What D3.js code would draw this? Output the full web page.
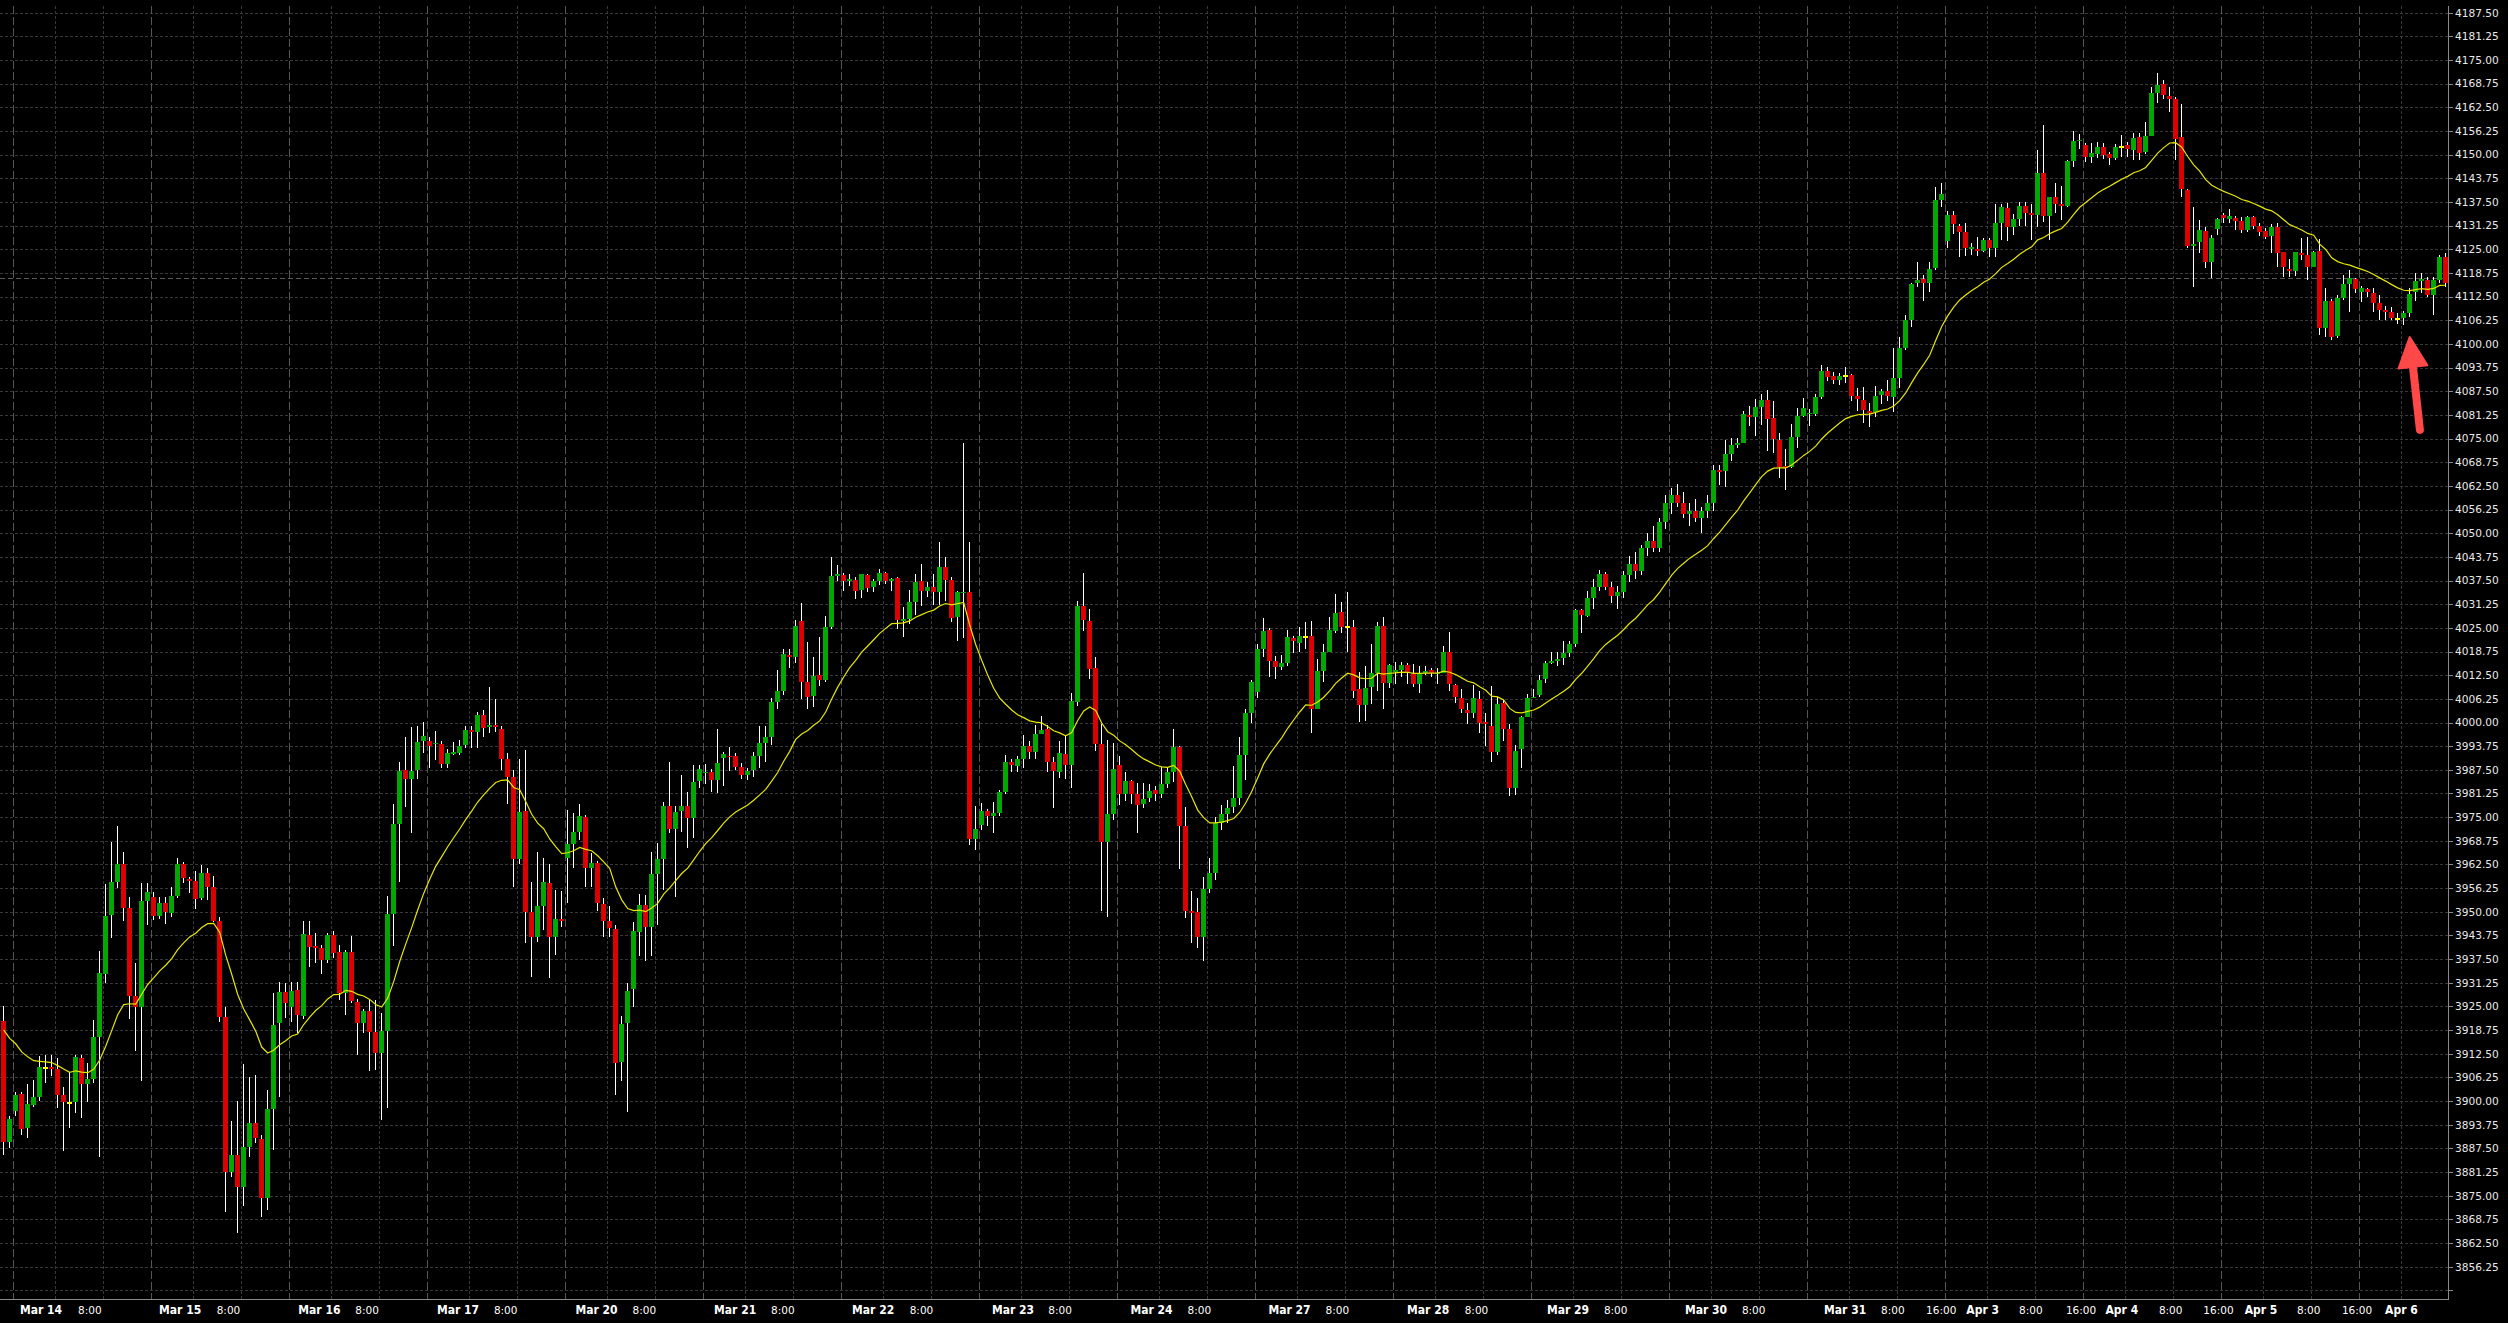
<!DOCTYPE html>
<html><head><meta charset="utf-8">
<script src="https://cdn.jsdelivr.net/npm/d3@7"></script>
<style>html,body{margin:0;padding:0;background:#000;overflow:hidden}</style>
</head><body>
<svg id="chart" width="2508" height="1323"></svg>
<script>
// ---------- DATA (hourly bars) ----------
const openP = [
3921.2,3889.3,3897.5,3901.9,3893.0,3899.0,3901.2,3908.8,3909.1,3908.6,
3901.6,3899.6,3899.8,3911.5,3904.5,3905.9,3917.0,3933.7,3949.2,3957.9,
3962.6,3951.1,3927.8,3924.9,3952.9,3953.9,3949.0,3952.2,3949.7,3954.2,
3962.6,3958.7,3958.2,3953.6,3960.3,3956.6,3947.7,3922.1,3881.2,3885.7,
3877.4,3887.9,3894.3,3890.0,3874.3,3897.9,3920.5,3928.8,3924.9,3929.3,
3922.5,3944.0,3941.0,3940.5,3937.3,3944.0,3939.5,3928.6,3939.5,3926.3,
3920.5,3923.7,3918.3,3912.6,3918.6,3949.4,3973.1,3987.5,3985.1,3987.5,
3995.1,3995.1,3994.2,3994.3,3989.1,3991.8,3991.9,3994.1,3998.0,3997.6,
4002.0,3998.7,3999.3,3998.3,3990.3,3985.5,3963.9,3976.6,3950.0,3943.4,
3951.4,3957.6,3943.4,3948.0,3964.1,3967.9,3971.0,3975.0,3961.6,3962.9,
3952.0,3947.6,3945.5,3910.4,3920.7,3929.5,3944.7,3951.8,3946.1,3960.0,
3963.9,3978.0,3972.0,3976.7,3978.0,3974.7,3984.5,3986.7,3987.0,3984.8,
3990.7,3991.2,3991.2,3988.3,3986.1,3987.5,3991.2,3994.5,3996.1,4005.5,
4008.2,4017.8,4017.2,4026.8,4010.6,4007.0,4012.6,4011.3,4025.2,4038.7,
4039.0,4037.4,4037.6,4034.9,4039.0,4035.8,4037.5,4039.5,4037.3,4038.2,
4026.9,4027.4,4031.8,4037.5,4034.8,4035.9,4034.4,4041.0,4037.7,4027.8,
4034.2,4034.6,3969.3,3973.0,3976.6,3975.4,3976.1,3981.6,3989.5,3988.6,
3990.3,3993.9,3992.2,3996.9,3998.3,3989.6,3987.0,3991.7,3988.9,4005.4,
4030.9,4026.8,4014.4,3994.2,3968.4,3975.8,3988.7,3981.0,3984.6,3981.0,
3978.5,3980.1,3982.1,3981.0,3983.7,3986.8,3993.6,3972.6,3950.2,3949.9,
3943.3,3956.1,3960.3,3973.4,3975.8,3977.8,3980.1,3991.4,4002.6,4008.1,
4019.3,4024.4,4016.3,4014.7,4015.6,4022.4,4021.1,4022.7,4022.9,4003.6,
4013.6,4018.5,4024.3,4029.3,4025.1,4025.3,4008.9,4004.5,4009.5,4013.0,
4025.6,4010.5,4013.3,4013.9,4015.2,4013.0,4010.2,4013.0,4013.9,4013.0,
4013.2,4018.7,4009.9,4006.6,4003.3,4002.4,4006.2,4000.2,3999.1,3992.3,
4005.1,3998.3,3982.6,3992.9,4001.5,4006.4,4007.3,4011.5,4015.8,4016.3,
4017.0,4018.3,4020.7,4029.7,4028.2,4033.0,4035.7,4039.2,4035.9,4033.4,
4034.5,4039.0,4042.0,4040.0,4046.0,4048.0,4046.0,4053.0,4058.0,4060.0,
4058.0,4055.0,4056.0,4054.0,4056.0,4058.0,4066.7,4066.5,4070.9,4073.3,
4073.8,4081.2,4080.8,4083.4,4085.2,4080.4,4074.6,4067.8,4067.6,4075.5,
4081.0,4081.4,4081.4,4085.9,4092.9,4091.5,4090.5,4091.5,4091.8,4086.3,
4085.2,4082.3,4081.9,4086.5,4087.5,4086.1,4090.9,4098.8,4106.2,4116.0,
4117.1,4116.2,4120.0,4138.0,4127.3,4134.1,4131.2,4129.5,4125.0,4125.1,
4124.6,4127.5,4125.3,4132.0,4135.8,4131.0,4133.0,4136.5,4134.5,4134.1,
4145.2,4133.9,4138.9,4137.0,4136.5,4148.2,4153.6,4152.6,4149.5,4150.2,
4151.9,4150.2,4149.2,4152.1,4152.5,4151.2,4154.7,4150.7,4154.9,4166.4,
4168.7,4165.5,4164.6,4154.6,4140.7,4126.0,4126.8,4129.8,4121.7,4130.3,
4134.1,4133.0,4133.4,4132.5,4130.1,4133.6,4131.2,4129.8,4128.5,4130.8,
4124.2,4119.8,4119.4,4124.1,4123.5,4120.4,4124.5,4104.1,4111.4,4102.1,
4112.2,4115.8,4117.1,4113.8,4114.4,4113.4,4110.9,4109.0,4108.4,4106.7,
4106.9,4108.3,4113.6,4116.7,4116.9,4112.9,4116.9,4122.9];
const highP = [
3925.1,3896.0,3902.3,3902.3,3904.5,3905.6,3911.9,3912.2,3912.2,3911.5,
3903.8,3907.6,3912.2,3912.2,3910.0,3921.4,3939.6,3957.3,3968.4,3972.7,
3965.7,3954.0,3936.5,3957.5,3957.5,3955.3,3953.8,3953.8,3956.6,3964.1,
3963.2,3959.3,3960.9,3962.4,3961.5,3959.5,3948.7,3924.9,3894.8,3899.9,
3909.8,3906.4,3906.9,3891.0,3902.8,3928.5,3931.5,3931.3,3931.5,3931.5,
3947.7,3947.7,3944.3,3941.2,3944.3,3945.0,3941.2,3939.8,3943.6,3927.0,
3924.2,3926.7,3926.7,3923.2,3954.2,3978.6,3989.7,3996.3,3998.9,3999.1,
4000.2,3996.3,3997.8,3995.0,3993.0,3994.9,3995.4,3999.1,3999.1,4002.9,
4003.3,4009.5,4006.1,3999.1,3991.9,3987.5,3990.4,3992.7,3958.0,3965.9,
3964.1,3962.6,3955.8,3955.6,3976.9,3976.0,3978.4,3975.5,3965.4,3963.5,
3953.6,3951.4,3946.5,3922.5,3931.1,3947.4,3954.7,3954.4,3965.9,3968.1,
3979.1,3989.6,3978.0,3986.1,3981.7,3988.9,3988.8,3989.0,3987.6,3998.2,
3992.3,3993.6,3991.9,3989.2,3987.9,3992.3,3999.1,3999.1,4006.4,4014.0,
4019.3,4019.3,4027.0,4031.6,4021.2,4017.4,4022.5,4028.2,4043.6,4041.7,
4039.4,4039.1,4038.4,4039.2,4039.3,4037.9,4040.5,4039.8,4038.2,4038.4,
4030.4,4035.1,4039.3,4041.9,4037.0,4039.3,4047.6,4043.6,4038.4,4034.8,
4073.8,4047.7,3978.0,3978.8,3977.1,3979.0,3982.3,3991.5,3990.3,3991.2,
3996.6,3995.2,3999.3,4001.6,3999.3,3990.8,3995.2,3996.4,4007.7,4032.1,
4039.5,4029.9,4017.4,3999.7,3995.5,3994.5,3991.2,3987.0,3984.8,3983.9,
3983.9,3983.7,3983.2,3988.2,3988.2,3998.3,3993.9,3977.6,3955.6,3953.7,
3959.2,3964.3,3975.0,3978.2,3979.5,3988.5,3996.3,4003.6,4011.1,4020.7,
4027.5,4024.9,4017.6,4017.8,4024.4,4022.9,4025.1,4026.5,4026.9,4016.8,
4020.7,4027.9,4033.9,4031.9,4034.6,4027.1,4013.4,4014.8,4020.7,4026.6,
4027.8,4015.5,4016.1,4016.1,4015.6,4015.5,4014.8,4014.9,4014.5,4014.3,
4020.2,4023.8,4010.3,4008.8,4005.1,4009.9,4008.4,4002.6,4009.6,4006.8,
4005.9,3999.6,3994.1,4001.7,4007.5,4008.8,4012.6,4016.3,4018.7,4018.5,
4021.4,4021.4,4029.9,4029.9,4034.8,4037.8,4040.3,4039.8,4037.0,4036.0,
4040.0,4044.0,4045.0,4047.0,4050.0,4052.0,4054.0,4060.0,4062.0,4063.0,
4061.0,4058.0,4059.0,4057.0,4060.0,4068.0,4068.0,4074.6,4075.1,4075.1,
4082.3,4083.6,4085.4,4086.8,4087.8,4084.8,4076.4,4072.3,4078.9,4083.0,
4085.6,4082.7,4086.9,4094.4,4093.8,4092.7,4092.4,4094.0,4092.0,4088.3,
4088.5,4084.3,4088.9,4088.0,4090.5,4098.8,4101.9,4107.6,4116.2,4121.7,
4118.2,4121.7,4141.4,4142.4,4135.2,4135.2,4131.7,4132.0,4126.6,4128.2,
4127.9,4127.9,4136.9,4137.0,4137.2,4134.3,4137.6,4137.6,4137.0,4151.1,
4157.8,4138.9,4142.4,4141.7,4148.6,4156.2,4155.5,4153.0,4153.2,4153.4,
4153.0,4150.8,4152.7,4155.2,4153.4,4155.8,4155.8,4158.7,4167.8,4171.7,
4169.6,4168.0,4165.1,4163.4,4140.8,4136.3,4132.7,4131.0,4128.8,4133.2,
4134.5,4135.6,4133.8,4133.6,4133.9,4133.9,4131.9,4130.5,4131.7,4131.9,
4124.4,4122.4,4124.4,4127.9,4128.3,4124.6,4127.6,4114.7,4111.8,4112.9,
4118.2,4119.5,4117.3,4115.3,4114.7,4114.7,4112.9,4110.0,4109.8,4108.1,
4108.8,4114.7,4118.7,4118.7,4117.8,4117.8,4123.5,4123.9];
const lowP = [
3885.8,3887.5,3896.0,3891.0,3890.3,3898.5,3900.0,3904.7,3906.6,3898.1,
3886.9,3893.0,3896.9,3895.6,3899.7,3904.7,3885.1,3931.1,3943.0,3956.4,
3947.7,3921.6,3913.3,3905.4,3946.4,3947.8,3948.1,3946.9,3948.7,3953.6,
3957.5,3954.9,3950.8,3953.1,3953.1,3947.4,3921.0,3870.6,3880.0,3865.1,
3872.4,3885.3,3888.8,3869.5,3871.2,3887.1,3901.2,3921.9,3921.0,3917.9,
3921.8,3935.5,3936.4,3933.7,3936.4,3937.7,3926.7,3922.7,3925.8,3912.2,
3917.9,3908.0,3908.2,3895.0,3898.1,3941.0,3958.0,3977.8,3970.9,3985.1,
3992.0,3988.1,3990.1,3987.9,3987.9,3991.3,3991.5,3993.2,3993.2,3993.2,
3996.3,3997.1,3997.6,3987.5,3978.6,3956.6,3962.5,3941.7,3932.9,3942.1,
3945.2,3932.4,3938.6,3946.1,3952.4,3961.5,3968.9,3956.6,3956.6,3950.3,
3943.4,3943.4,3901.6,3905.4,3897.2,3924.9,3938.3,3937.1,3938.3,3946.5,
3955.8,3970.7,3954.0,3971.2,3966.8,3969.4,3982.6,3983.8,3981.7,3981.5,
3983.3,3987.3,3987.5,3985.0,3984.8,3985.7,3987.9,3989.6,3994.1,4003.6,
4007.3,4014.3,4015.8,4006.3,4003.5,4004.2,4009.6,4010.8,4024.7,4037.3,
4034.8,4036.0,4032.7,4033.0,4034.4,4034.6,4036.2,4036.7,4034.8,4024.7,
4022.6,4026.1,4028.5,4030.9,4033.2,4031.0,4031.0,4032.0,4026.6,4021.6,
4022.2,3967.7,3966.2,3971.6,3972.6,3970.7,3975.2,3981.0,3986.8,3987.0,
3987.9,3990.3,3990.3,3996.9,3986.8,3977.3,3985.3,3985.1,3982.6,4004.4,
4024.2,4011.5,3992.6,3950.2,3948.6,3974.3,3978.2,3979.2,3978.5,3970.9,
3977.3,3979.0,3979.2,3980.1,3982.7,3984.2,3961.2,3948.3,3941.7,3940.5,
3937.0,3955.0,3958.5,3971.5,3973.5,3976.0,3978.2,3984.8,4000.0,4006.4,
4017.4,4011.9,4011.4,4014.0,4014.9,4018.4,4018.7,4019.3,3997.3,4003.6,
4010.8,4018.5,4023.7,4023.6,4018.5,4006.6,4000.2,4000.5,4005.0,4008.4,
4003.5,4009.0,4010.3,4012.1,4010.3,4009.5,4007.9,4012.6,4011.9,4010.3,
4013.0,4008.4,4005.1,4002.4,3999.6,4001.1,3997.1,3993.8,3989.7,3991.4,
3995.2,3980.6,3980.9,3988.1,4001.5,4006.4,4006.8,4010.5,4015.5,4014.8,
4015.2,4017.2,4019.9,4023.6,4027.8,4029.9,4034.8,4035.0,4031.5,4030.0,
4033.0,4037.0,4038.0,4039.0,4044.0,4045.0,4045.0,4051.0,4055.0,4057.0,
4054.0,4052.0,4053.0,4050.0,4054.0,4056.0,4062.7,4062.3,4069.2,4072.4,
4073.8,4078.2,4075.7,4078.6,4071.8,4071.3,4064.5,4061.4,4067.2,4072.4,
4080.6,4078.2,4081.0,4085.4,4090.3,4089.3,4089.2,4089.6,4084.9,4082.4,
4079.2,4078.0,4080.8,4084.1,4084.9,4081.9,4088.3,4098.4,4104.4,4115.0,
4111.4,4113.8,4119.5,4136.1,4125.3,4129.0,4122.9,4123.1,4123.5,4123.1,
4124.4,4122.9,4122.9,4127.5,4127.3,4128.8,4131.2,4131.2,4127.5,4131.0,
4132.3,4127.5,4134.7,4132.7,4136.3,4146.8,4151.4,4148.1,4147.9,4149.0,
4148.8,4147.4,4148.6,4149.5,4149.5,4148.6,4148.6,4150.3,4154.8,4163.7,
4164.6,4161.4,4148.6,4138.7,4125.3,4115.1,4123.9,4120.0,4117.3,4128.8,
4131.9,4131.9,4130.1,4129.4,4129.7,4130.3,4128.5,4127.6,4124.1,4120.4,
4117.8,4117.8,4117.9,4122.3,4116.9,4120.4,4102.4,4101.9,4101.0,4101.5,
4111.6,4108.5,4113.5,4111.2,4112.3,4108.5,4106.3,4106.3,4106.3,4105.4,
4105.0,4107.2,4111.4,4113.4,4112.3,4107.6,4116.0,4115.1];
const closeP = [
3889.3,3895.3,3901.6,3892.6,3899.2,3901.0,3909.1,3908.8,3908.6,3901.6,
3899.8,3899.6,3911.7,3904.5,3905.9,3917.0,3933.9,3949.0,3957.9,3962.6,
3951.1,3927.8,3924.9,3952.9,3955.2,3949.0,3952.2,3950.0,3954.2,3962.6,
3958.8,3958.2,3953.5,3960.3,3956.6,3947.7,3922.1,3881.2,3885.7,3877.4,
3887.9,3894.1,3890.2,3874.3,3897.9,3920.1,3928.8,3925.8,3929.1,3922.7,
3944.2,3940.8,3940.5,3937.3,3944.0,3939.0,3928.6,3939.5,3926.5,3920.5,
3923.7,3918.3,3912.6,3918.6,3949.4,3973.2,3987.2,3985.1,3987.2,3994.9,
3996.4,3993.9,3994.5,3989.1,3991.9,3992.2,3993.8,3998.0,3997.6,4002.0,
3998.6,3999.3,3998.7,3990.3,3985.7,3963.9,3976.4,3950.0,3943.4,3951.4,
3957.9,3943.4,3948.1,3947.6,3967.9,3971.0,3975.3,3961.6,3962.9,3952.2,
3947.6,3945.6,3910.1,3920.4,3929.2,3944.9,3951.8,3946.1,3960.0,3963.9,
3978.0,3972.0,3976.4,3978.0,3974.9,3984.4,3987.7,3987.0,3984.8,3989.4,
3991.7,3991.0,3988.3,3986.1,3987.2,3991.2,3994.5,3996.1,4005.5,4008.2,
4018.1,4017.2,4025.5,4010.6,4006.8,4012.3,4011.3,4025.2,4038.7,4039.2,
4037.4,4037.9,4034.8,4039.2,4035.6,4037.5,4039.5,4037.5,4037.9,4027.1,
4027.4,4031.8,4037.2,4034.8,4035.9,4034.4,4041.0,4037.7,4027.7,4034.4,
4034.6,3969.3,3971.9,3976.6,3975.4,3976.1,3981.6,3989.5,3988.9,3990.3,
3993.9,3992.2,3996.9,3998.1,3989.6,3987.3,3992.0,3988.9,4005.6,4030.9,
4027.1,4014.2,3994.2,3968.4,3975.8,3987.7,3981.0,3984.6,3981.0,3978.3,
3979.9,3982.0,3981.0,3983.7,3986.8,3993.6,3972.6,3950.2,3949.7,3943.3,
3956.1,3960.3,3973.4,3975.8,3977.5,3980.1,3991.4,4002.6,4010.8,4019.3,
4024.2,4016.3,4014.7,4015.6,4022.7,4021.4,4022.9,4022.7,4003.5,4013.6,
4018.7,4024.4,4029.0,4025.1,4025.1,4008.4,4004.5,4009.2,4013.0,4025.6,
4010.5,4015.2,4013.9,4015.2,4013.0,4010.2,4013.0,4013.6,4013.0,4013.2,
4018.7,4010.3,4006.8,4003.6,4002.4,4006.4,3999.9,3999.5,3992.3,4004.9,
3998.2,3982.6,3992.5,4001.5,4006.6,4006.8,4011.2,4015.6,4016.3,4016.7,
4018.3,4020.7,4029.7,4028.4,4033.0,4035.7,4039.2,4035.9,4033.4,4034.5,
4039.0,4042.0,4040.0,4046.0,4048.0,4046.0,4053.0,4058.0,4060.0,4058.0,
4055.0,4056.0,4054.0,4056.0,4058.0,4066.7,4066.2,4070.9,4073.3,4073.8,
4081.5,4080.8,4083.4,4085.2,4080.2,4074.8,4067.6,4067.3,4075.3,4081.0,
4083.0,4081.7,4086.1,4092.9,4091.4,4090.5,4091.5,4091.5,4086.3,4085.4,
4082.6,4081.7,4086.3,4087.5,4086.3,4090.9,4098.8,4106.3,4115.8,4116.9,
4116.0,4119.7,4138.0,4139.6,4134.1,4131.6,4129.7,4125.3,4125.5,4124.6,
4127.5,4125.3,4131.9,4136.1,4130.8,4133.0,4136.5,4134.7,4134.1,4145.2,
4133.9,4138.7,4137.0,4136.5,4148.2,4153.6,4153.9,4149.5,4150.4,4151.9,
4149.9,4149.2,4151.9,4152.1,4151.4,4154.5,4150.5,4154.9,4166.4,4168.4,
4165.8,4164.6,4154.1,4140.8,4125.9,4126.4,4130.1,4121.7,4127.9,4133.0,
4133.2,4133.8,4132.5,4130.1,4133.6,4131.2,4129.7,4128.3,4130.8,4124.1,
4120.2,4119.4,4124.2,4123.5,4120.4,4124.2,4104.1,4111.4,4101.9,4112.2,
4115.8,4117.3,4114.5,4114.7,4113.8,4110.9,4109.0,4108.5,4106.9,4106.7,
4108.1,4113.2,4116.6,4117.2,4112.8,4116.9,4122.9,4116.0];

// moving average (EMA on close) – period and value at the first visible bar
const maPeriod = 20;
const maFirstValue = 3918.8;

// price axis tick values
const priceTicks = [3850.00,3856.25,3862.50,3868.75,3875.00,3881.25,3887.50,3893.75,3900.00,3906.25,
3912.50,3918.75,3925.00,3931.25,3937.50,3943.75,3950.00,3956.25,3962.50,3968.75,3975.00,3981.25,
3987.50,3993.75,4000.00,4006.25,4012.50,4018.75,4025.00,4031.25,4037.50,4043.75,4050.00,4056.25,
4062.50,4068.75,4075.00,4081.25,4087.50,4093.75,4100.00,4106.25,4112.50,4118.75,4125.00,4131.25,
4137.50,4143.75,4150.00,4156.25,4162.50,4168.75,4175.00,4181.25,4187.50];
const priceDomain = [3856.25, 4187.50];

// time axis labels (bar position of each label)
const timeLabelText = ["Mar 14","8:00","Mar 15","8:00","Mar 16","8:00","Mar 17","8:00","Mar 20","8:00",
"Mar 21","8:00","Mar 22","8:00","Mar 23","8:00","Mar 24","8:00","Mar 27","8:00","Mar 28","8:00",
"Mar 29","8:00","Mar 30","8:00","Mar 31","8:00","16:00","Apr 3","8:00","16:00","Apr 4","8:00","16:00",
"Apr 5","8:00","16:00","Apr 6"];
const timeLabelBar = [3.2,12.9,26.4,36.0,49.6,59.1,72.7,82.2,95.8,105.3,
118.9,128.4,141.9,151.5,165.2,174.6,188.3,197.8,211.3,220.8,234.4,244.0,
257.7,267.2,280.7,290.2,303.9,313.4,320.9,327.6,336.4,344.2,350.8,359.7,367.1,
374.0,382.7,390.2,397.4];

// session starts (bar index) and intra-day grid offsets (bars)
const sessionStartBar = [2,25,48,71,94,117,140,163,186,209,232,255,278,301,324,347,370,393];
const gridOffsetBars = [7,15];

// current price line and annotation arrow (bar, price)
const priceLineValue = 4117.5;
const arrowTail = [403.2, 4077.3];
const arrowHead = [401.5, 4101.8];

// ---------- DRAWING ----------
const W = 2508, H = 1323;
const plotRight = 2448, plotTop = 6, plotBottom = 1299;
const nBars = closeP.length;

const svg = d3.select("#chart");
svg.append("rect").attr("width", W).attr("height", H).attr("fill", "#000");

const x = d3.scaleLinear().domain([0, nBars]).range([0.7, 0.7 + 6 * nBars]);
const y = d3.scaleLinear().domain(priceDomain).range([1266.7, 12.7]);
const cx = i => x(i + 0.5);

const grid = svg.append("g");
grid.selectAll("line.h").data(priceTicks).join("line")
  .attr("x1", 0).attr("x2", plotRight)
  .attr("y1", d => Math.round(y(d)) + 0.5).attr("y2", d => Math.round(y(d)) + 0.5)
  .attr("stroke", "#383838").attr("stroke-width", 1).attr("stroke-dasharray", "3,2");
const vGrid = [];
sessionStartBar.forEach(s => gridOffsetBars.forEach(o => { if (s + o < nBars) vGrid.push(s + o); }));
grid.selectAll("line.v").data(vGrid).join("line")
  .attr("x1", d => Math.round(x(d)) + 0.5).attr("x2", d => Math.round(x(d)) + 0.5)
  .attr("y1", plotTop).attr("y2", plotBottom)
  .attr("stroke", "#383838").attr("stroke-width", 1).attr("stroke-dasharray", "3,2");
grid.selectAll("line.s").data(sessionStartBar).join("line")
  .attr("x1", d => Math.round(x(d)) + 0.5).attr("x2", d => Math.round(x(d)) + 0.5)
  .attr("y1", plotTop).attr("y2", plotBottom)
  .attr("stroke", "#555").attr("stroke-width", 1).attr("stroke-dasharray", "8,3");

svg.append("line").attr("x1", 0).attr("x2", plotRight)
  .attr("y1", Math.round(y(priceLineValue)) + 0.5).attr("y2", Math.round(y(priceLineValue)) + 0.5)
  .attr("stroke", "#5a5a5a").attr("stroke-width", 1).attr("stroke-dasharray", "5,3");

const idx = d3.range(nBars);
const cg = svg.append("g");
cg.selectAll("rect.w").data(idx).join("rect")
  .attr("x", i => Math.round(x(i)) + 2).attr("width", 1)
  .attr("y", i => Math.round(y(highP[i])))
  .attr("height", i => Math.max(1, Math.round(y(lowP[i])) - Math.round(y(highP[i]))))
  .attr("fill", "#ffffff");
cg.selectAll("rect.b").data(idx).join("rect")
  .attr("x", i => Math.round(x(i))).attr("width", 5)
  .attr("y", i => {
    if (openP[i] === closeP[i]) return Math.round(y(openP[i])) - 1;
    return Math.round(y(Math.max(openP[i], closeP[i])));
  })
  .attr("height", i => {
    if (openP[i] === closeP[i]) return 2;
    return Math.max(1, Math.round(y(Math.min(openP[i], closeP[i]))) - Math.round(y(Math.max(openP[i], closeP[i]))));
  })
  .attr("fill", i => openP[i] === closeP[i] ? "#ffff00" : (closeP[i] > openP[i] ? "#00a800" : "#dd0000"));

const ma = [];
closeP.forEach((c, i) => {
  if (i === 0) ma.push(maFirstValue);
  else ma.push(ma[i - 1] + (c - ma[i - 1]) * 2 / (maPeriod + 1));
});
svg.append("path").datum(ma)
  .attr("d", d3.line().x((d, i) => cx(i)).y(d => y(d)))
  .attr("fill", "none").attr("stroke", "#e6e600").attr("stroke-width", 1.2);

(function () {
  const x0 = x(arrowTail[0]), y0 = y(arrowTail[1]);
  const x1 = x(arrowHead[0]), y1 = y(arrowHead[1]);
  const dx = x1 - x0, dy = y1 - y0, len = Math.hypot(dx, dy);
  const ux = dx / len, uy = dy / len, px = -uy, py = ux;
  const headLen = 30, headHalf = 14.5;
  const bx = x1 - ux * headLen, by = y1 - uy * headLen;
  svg.append("line").attr("x1", x0).attr("y1", y0).attr("x2", bx + ux * 2).attr("y2", by + uy * 2)
    .attr("stroke", "#ff4848").attr("stroke-width", 8).attr("stroke-linecap", "round");
  svg.append("path")
    .attr("d", `M${x1},${y1}L${bx + px * headHalf},${by + py * headHalf}L${bx - px * headHalf},${by - py * headHalf}Z`)
    .attr("fill", "#ff4848").attr("stroke", "#ff4848").attr("stroke-linejoin", "round").attr("stroke-width", 2);
})();

svg.append("rect").attr("x", plotRight + 1).attr("y", 0).attr("width", W - plotRight).attr("height", H).attr("fill", "#000");
svg.append("rect").attr("x", 0).attr("y", plotBottom + 1).attr("width", W).attr("height", H - plotBottom).attr("fill", "#000");
svg.append("line").attr("x1", plotRight + 0.5).attr("x2", plotRight + 0.5).attr("y1", plotTop).attr("y2", plotBottom + 1)
  .attr("stroke", "#8a8a8a");
svg.append("line").attr("x1", 0).attr("x2", plotRight + 1).attr("y1", plotBottom + 0.5).attr("y2", plotBottom + 0.5)
  .attr("stroke", "#8a8a8a");

const ay = svg.append("g");
ay.selectAll("line").data(priceTicks).join("line")
  .attr("x1", plotRight + 1).attr("x2", plotRight + 5)
  .attr("y1", d => Math.round(y(d)) + 0.5).attr("y2", d => Math.round(y(d)) + 0.5)
  .attr("stroke", "#8a8a8a");
ay.selectAll("text").data(priceTicks.filter(d => d >= priceDomain[0])).join("text")
  .attr("x", 2455).attr("y", d => y(d)).attr("dy", "0.36em")
  .attr("fill", "#e8e8e8").attr("font-family", "'DejaVu Sans', Verdana, sans-serif").attr("font-size", "10.6px")
  .text(d => d.toFixed(2));

const ax = svg.append("g");
ax.selectAll("text").data(timeLabelText).join("text")
  .attr("x", (d, i) => x(timeLabelBar[i]))
  .attr("y", 1314)
  .attr("fill", "#ffffff")
  .attr("font-family", d => d.includes(":") ? "'DejaVu Sans', sans-serif" : "'DejaVu Sans Condensed', 'Liberation Sans Narrow', 'DejaVu Sans', sans-serif")
  .attr("font-weight", d => d.includes(":") ? "normal" : "bold")
  .attr("font-size", d => d.includes(":") ? "10.5px" : "12px")
  .text(d => d);
</script>
</body></html>
